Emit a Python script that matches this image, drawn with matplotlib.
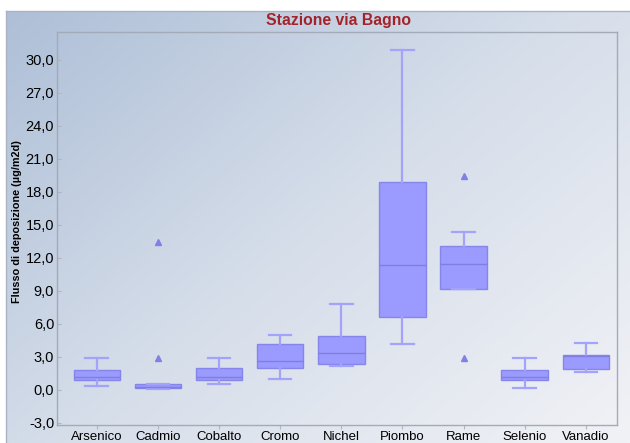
import numpy as np
import matplotlib.pyplot as plt
from matplotlib.colors import LinearSegmentedColormap

# Deposition flux per element (µg/m2d)
categories = ['Arsenico', 'Cadmio', 'Cobalto', 'Cromo', 'Nichel',
              'Piombo', 'Rame', 'Selenio', 'Vanadio']
whisker_low = [0.36, 0.10, 0.55, 1.00, 2.12, 4.12, 9.15, 0.12, 1.61]
q1 = [0.88, 0.12, 0.88, 1.97, 2.33, 6.57, 9.15, 0.88, 1.91]
median = [1.15, 0.24, 1.15, 2.58, 3.33, 11.30, 11.43, 1.15, 3.10]
q3 = [1.82, 0.55, 1.97, 4.18, 4.88, 18.88, 13.06, 1.82, 3.15]
whisker_high = [2.85, 0.55, 2.85, 4.97, 7.76, 30.85, 14.30, 2.85, 4.24]
outliers = [[], [2.85, 13.45], [], [], [], [], [2.85, 19.40], [], []]
yticks = [-3, 0, 3, 6, 9, 12, 15, 18, 21, 24, 27, 30]

BOX_FACE = '#9b9bff'
BOX_EDGE = '#8686ea'
WHISK = '#a3a3fb'
TITLE_RED = '#a3232b'

plt.rcParams['font.family'] = ['Liberation Sans', 'DejaVu Sans']

fig = plt.figure(figsize=(6.3, 4.43), dpi=100, facecolor='white')

# Diagonal gradient panel behind everything
bg = fig.add_axes([6 / 630, 0, 1 - 6 / 630, 1 - 11 / 443], zorder=0)
gx, gy = np.meshgrid(np.linspace(0, 1, 300), np.linspace(0, 1, 200))
grad = 0.55 * gx + 0.45 * gy
cmap = LinearSegmentedColormap.from_list('panel', ['#aebfd7', '#d6deea', '#f1f2f6'])
bg.imshow(grad, cmap=cmap, aspect='auto', extent=[0, 1, 0, 1], origin='upper')
bg.set_xlim(0, 1)
bg.set_ylim(0, 1)
bg.set_xticks([])
bg.set_yticks([])
for side in ['right', 'bottom']:
    bg.spines[side].set_visible(False)
for side in ['top', 'left']:
    bg.spines[side].set_color('#a9b3c2')
    bg.spines[side].set_linewidth(1.0)

ax = fig.add_axes([57 / 630, 1 - 425 / 443, (617 - 57) / 630, (425 - 32) / 443], zorder=1)
ax.patch.set_alpha(0)

stats = []
for i, name in enumerate(categories):
    stats.append(dict(label=name, whislo=whisker_low[i], q1=q1[i], med=median[i],
                      q3=q3[i], whishi=whisker_high[i], fliers=outliers[i]))

pos = np.arange(1, len(categories) + 1)
ax.bxp(stats, positions=pos, widths=0.76, patch_artist=True, showfliers=True,
       boxprops=dict(facecolor=BOX_FACE, edgecolor=BOX_EDGE, linewidth=1.0),
       medianprops=dict(color='#7f7fe0', linewidth=1.0),
       whiskerprops=dict(color=WHISK, linewidth=1.6),
       capprops=dict(color=WHISK, linewidth=1.6),
       capwidths=0.37,
       flierprops=dict(marker='^', markersize=5, markerfacecolor='#8080e6',
                       markeredgecolor='#8080e6', linestyle='none'))

ax.set_xlim(0.35, 9.51)
ax.set_ylim(-3.2, 32.5)
ax.set_yticks(yticks)
ax.set_yticklabels([f'{v:.1f}'.replace('.', ',') for v in yticks], fontsize=10.5)
ax.set_xticks(pos)
ax.set_xticklabels(categories, fontsize=9.5)
ax.tick_params(axis='both', colors='#b0b6c0', width=0.8, labelcolor='black')
ax.tick_params(axis='y', direction='in', length=3, pad=2)
ax.tick_params(axis='x', direction='out', length=3, pad=1)
for side in ax.spines.values():
    side.set_color('#a3abb8')
    side.set_linewidth(1.0)

ax.set_ylabel('Flusso di deposizione (µg/m2d)', fontsize=7.8, fontweight='bold')
ax.yaxis.set_label_coords(-(57 - 22) / 560, (425 - 222) / 393)
fig.text(339 / 630, 1 - 20 / 443, 'Stazione via Bagno', color=TITLE_RED,
         fontsize=11.3, fontweight='bold', ha='center', va='center')

fig.savefig('out.png', dpi=100, facecolor='white')
